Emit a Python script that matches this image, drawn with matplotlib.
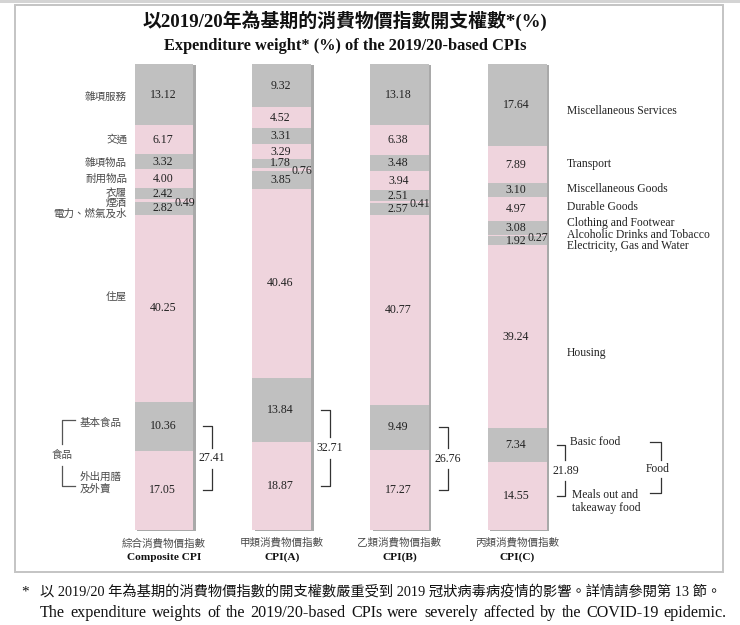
import matplotlib
matplotlib.use("Agg")
import matplotlib.pyplot as plt
import numpy as np
from matplotlib.patches import Rectangle

# ---------------- data ----------------
categories_zh = ['雜項服務', '交通', '雜項物品', '耐用物品', '衣履', '煙酒',
                 '電力、燃氣及水', '住屋', '基本食品', '外出用膳及外賣']
categories_en = ['Miscellaneous Services', 'Transport', 'Miscellaneous Goods',
                 'Durable Goods', 'Clothing and Footwear',
                 'Alcoholic Drinks and Tobacco', 'Electricity, Gas and Water',
                 'Housing', 'Basic food', 'Meals out and takeaway food']
index_zh = ['綜合消費物價指數', '甲類消費物價指數', '乙類消費物價指數', '丙類消費物價指數']
index_en = ['Composite CPI', 'CPI(A)', 'CPI(B)', 'CPI(C)']

composite = [13.12, 6.17, 3.32, 4.00, 2.42, 0.49, 2.82, 40.25, 10.36, 17.05]
cpi_a = [9.32, 4.52, 3.31, 3.29, 1.78, 0.76, 3.85, 40.46, 13.84, 18.87]
cpi_b = [13.18, 6.38, 3.48, 3.94, 2.51, 0.41, 2.57, 40.77, 9.49, 17.27]
cpi_c = [17.64, 7.89, 3.10, 4.97, 3.08, 0.27, 1.92, 39.24, 7.34, 14.55]
food_totals = [27.41, 32.71, 26.76, 21.89]

title_zh = '以2019/20年為基期的消費物價指數開支權數*(%)'
title_en = 'Expenditure weight* (%) of the 2019/20-based CPIs'
note_zh = '以 2019/20 年為基期的消費物價指數的開支權數嚴重受到 2019 冠狀病毒病疫情的影響。詳情請參閱第 13 節。'
note_en = 'The expenditure weights of the 2019/20-based CPIs were severely affected by the COVID-19 epidemic.'

series = [composite, cpi_a, cpi_b, cpi_c]

# ---------------- style ----------------
GRAY = '#c0c0c0'
PINK = '#efd4dd'
SHADOW = '#a9a9a9'
SERIF = ['Liberation Serif', 'Noto Sans CJK TC']
CJK = ['Noto Sans CJK TC', 'Liberation Serif']
TXT = '#222222'
ZHTXT = '#4a4a4a'
VFS = 8.6   # value font size
EFS = 8.4   # english label font size

W, H = 740, 625
X0, DX = 164.0, 117.7   # pixel of bar 0 centre, pixels per bar unit
Y0, DY = 64.0, 4.66     # pixel of 0 %, pixels per percent


def P(px, py):
    return (px - X0) / DX, (py - Y0) / DY


fig = plt.figure(figsize=(W / 100, H / 100), dpi=100)
ax = fig.add_axes([0, 0, 1, 1])
ax.set_xlim(P(0, 0)[0], P(W, 0)[0])
ax.set_ylim(P(0, H)[1], P(0, 0)[1])
ax.axis('off')

# frame
(fx0, fy0), (fx1, fy1) = P(15, 5), P(723, 572)
ax.add_patch(Rectangle((fx0, fy0), fx1 - fx0, fy1 - fy0, fill=False,
                       edgecolor='#c4c4c4', lw=1.4, zorder=0))
(tx0, ty0), (tx1, ty1) = P(0, 0), P(W, 3)
ax.add_patch(Rectangle((tx0, ty0), tx1 - tx0, ty1 - ty0, color='#d4d4d4', lw=0, zorder=0))

# titles
ax.text(*P(345, 21), title_zh, family=SERIF, fontsize=13.6, fontweight='bold',
        ha='center', va='center', color='#111111')
ax.text(*P(345, 46), title_en, family=SERIF, fontsize=11.8, fontweight='bold',
        ha='center', va='center', color='#111111')

BW = 0.5
colors = [GRAY if k % 2 == 0 else PINK for k in range(len(categories_zh))]

for i, vals in enumerate(series):
    vals = np.array(vals)
    bottoms = np.concatenate([[0], np.cumsum(vals)[:-1]])
    total = vals.sum()
    # shadow
    ax.bar(i + 0.022, total, bottom=0.2, width=BW, color=SHADOW, lw=0, zorder=1)
    ax.bar(i, vals, bottom=bottoms, width=BW, color=colors, lw=0, zorder=2)
    centers = bottoms + vals / 2
    for k, (v, c) in enumerate(zip(vals, centers)):
        if k == 5:
            ax.text(i + 0.175, c + 0.45, f'{v:.2f}', family=SERIF, fontsize=VFS,
                    ha='center', va='center', color=TXT, zorder=3)
        else:
            ax.text(i - 0.01, c, f'{v:.2f}', family=SERIF, fontsize=VFS,
                    ha='center', va='center', color=TXT, zorder=3)
    # food bracket
    yt, yb = centers[8], centers[9]
    bx = i + 0.41
    tick = 0.075
    ym = (yt + yb) / 2
    gap = 2.3
    ax.plot([bx - tick, bx, bx], [yt, yt, ym - gap], color='#333333', lw=0.9, zorder=3)
    ax.plot([bx - tick, bx, bx], [yb, yb, ym + gap], color='#333333', lw=0.9, zorder=3)
    ax.text(bx, ym, f'{food_totals[i]:.2f}', family=SERIF, fontsize=VFS,
            ha='center', va='center', color=TXT)
    # index labels
    ax.text(i, P(0, 543)[1], index_zh[i], family=CJK, fontsize=7.6,
            ha='center', va='center', color=ZHTXT)
    ax.text(i, P(0, 557)[1], index_en[i], family=SERIF, fontsize=8.2,
            fontweight='bold', ha='center', va='center', color='#111111')

# Chinese category labels (left)
zh_pos = [97, 139, 163, 179, 193, 203, 214, 297]
for k, py in enumerate(zh_pos):
    ax.text(*P(127, py), categories_zh[k], family=CJK, fontsize=7.6,
            ha='right', va='center', color=ZHTXT)
ax.text(*P(80, 423), categories_zh[8], family=CJK, fontsize=7.6,
        ha='left', va='center', color=ZHTXT)
ax.text(*P(80, 477), categories_zh[9][:4], family=CJK, fontsize=7.6,
        ha='left', va='center', color=ZHTXT)
ax.text(*P(80, 489), categories_zh[9][4:], family=CJK, fontsize=7.6,
        ha='left', va='center', color=ZHTXT)
# left food bracket
lx, lx2 = P(62, 0)[0], P(75, 0)[0]
ly1, ly2, ly3, ly4 = P(0, 420)[1], P(0, 444)[1], P(0, 466)[1], P(0, 486)[1]
ax.plot([lx2, lx, lx], [ly1, ly1, ly2], color='#555555', lw=0.9)
ax.plot([lx2, lx, lx], [ly4, ly4, ly3], color='#555555', lw=0.9)
ax.text(*P(62, 455), '食品', family=CJK, fontsize=7.6, ha='center', va='center', color=ZHTXT)

# English category labels (right)
en_pos = [111, 164, 189, 207, 223, 235, 246, 353]
for k, py in enumerate(en_pos):
    ax.text(*P(567, py), categories_en[k], family=SERIF, fontsize=EFS,
            ha='left', va='center', color=TXT)
ax.text(*P(570, 442), categories_en[8], family=SERIF, fontsize=EFS,
        ha='left', va='center', color=TXT)
ax.text(*P(572, 495), 'Meals out and', family=SERIF, fontsize=EFS,
        ha='left', va='center', color=TXT)
ax.text(*P(572, 508), 'takeaway food', family=SERIF, fontsize=EFS,
        ha='left', va='center', color=TXT)
# right food bracket
rx, rx2 = P(661, 0)[0], P(650, 0)[0]
ry1, ry2, ry3, ry4 = P(0, 442)[1], P(0, 460)[1], P(0, 478)[1], P(0, 493)[1]
ax.plot([rx2, rx, rx], [ry1, ry1, ry2], color='#333333', lw=0.9)
ax.plot([rx2, rx, rx], [ry4, ry4, ry3], color='#333333', lw=0.9)
ax.text(*P(658, 469), 'Food', family=SERIF, fontsize=EFS, ha='center', va='center', color=TXT)

# footnote
ax.text(*P(25, 592), '*', family=SERIF, fontsize=11, ha='center', va='center', color='#111111')
ax.text(*P(40, 592), note_zh, family=SERIF, fontsize=10.3, ha='left', va='center', color='#111111')

# justified English line
renderer = fig.canvas.get_renderer()
words = note_en.split()
objs = [ax.text(0, 0, w, family=SERIF, fontsize=11.6, ha='left', va='center', color='#111111')
        for w in words]
widths = [o.get_window_extent(renderer=renderer).width for o in objs]
left, right = 40, 727
space = (right - left - sum(widths)) / (len(words) - 1)
xcur = left
for o, wd in zip(objs, widths):
    o.set_position(P(xcur, 613))
    xcur += wd + space

fig.savefig('out.png', dpi=100)
